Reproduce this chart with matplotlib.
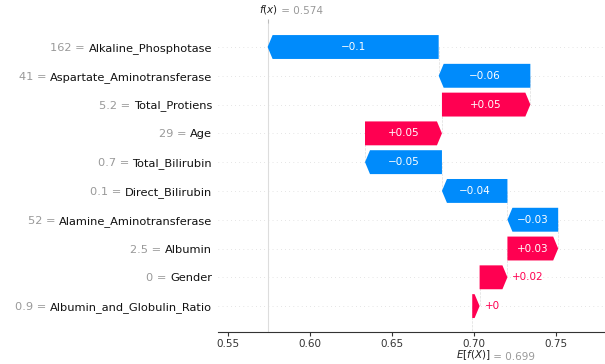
import matplotlib
matplotlib.use("Agg")
import matplotlib.pyplot as plt
import matplotlib.transforms as mtransforms
import numpy as np

features = ["Alkaline_Phosphotase", "Aspartate_Aminotransferase", "Total_Protiens",
            "Age", "Total_Bilirubin", "Direct_Bilirubin", "Alamine_Aminotransferase",
            "Albumin", "Gender", "Albumin_and_Globulin_Ratio"]
feature_values = ["162", "41", "5.2", "29", "0.7", "0.1", "52", "2.5", "0", "0.9"]
shap_values = [-0.1045, -0.056, 0.054, 0.047, -0.047, -0.040, -0.031, 0.031, 0.017, 0.0045]
base_value = 0.699
x_ticks = [0.55, 0.60, 0.65, 0.70, 0.75]

RED = "#ff0051"
BLUE = "#008bfb"
GRAY = "#999999"


def fmt(v, f="%+0.02f"):
    s = f % v
    if "." in s:
        s = s.rstrip("0").rstrip(".")
    return s.replace("-", "\u2212")


n = len(features)
rows = np.arange(n)

# cumulative positions: bottom row starts at base value
lefts = [0.0] * n
pos = base_value
for i in reversed(range(n)):
    lefts[i] = pos
    pos += shap_values[i]
fx = pos

W, H = 605, 364
fig = plt.figure(figsize=(W / 100, H / 100), dpi=100)
ax_l, ax_r, ax_t, ax_b = 218, 605, 23, 332
ax = fig.add_axes([ax_l / W, 1 - ax_b / H, (ax_r - ax_l) / W, (ax_b - ax_t) / H])

xmin, xmax = 0.5437, 0.7801
ax.set_xlim(xmin, xmax)
ax.set_ylim(9.9, -0.834)
px_per_unit = (ax_r - ax_l) / (xmax - xmin)
hl = 5.0 / px_per_unit
bar_w = 0.83

for i in range(n):
    ax.axhline(rows[i], color="#cccccc", lw=0.5, dashes=(1, 5), zorder=-1)

# connector lines
for i in range(n):
    y1 = rows[i] + 1 if i < n - 1 else 9.9
    ax.plot([lefts[i], lefts[i]], [rows[i], y1],
            color="#dddddd", lw=0.5, ls="--", zorder=-1)

ax.axvline(fx, color="#dddddd", lw=0.8, zorder=-1)

fig.canvas.draw()
renderer = fig.canvas.get_renderer()

for i in range(n):
    v = shap_values[i]
    col = RED if v > 0 else BLUE
    ax.arrow(lefts[i], rows[i], v, 0, width=bar_w, head_width=bar_w,
             head_length=min(abs(v), hl), length_includes_head=True,
             color=col, linewidth=0, zorder=2)
    label = fmt(v)
    t = ax.text(lefts[i] + v / 2, rows[i], label, ha="center", va="center",
                color="white", fontsize=7.5, zorder=3)
    tw = t.get_window_extent(renderer=renderer).width
    bar_px = abs(v) * px_per_unit
    if tw + 6 > bar_px - 5:
        t.remove()
        off = 5.0 / px_per_unit
        if v > 0:
            ax.text(lefts[i] + v + off, rows[i], label, ha="left", va="center",
                    color=RED, fontsize=7.5)
        else:
            ax.text(lefts[i] + v - off, rows[i], label, ha="right", va="center",
                    color=BLUE, fontsize=7.5)

# y labels: black feature name, gray "value =" to its left
ax.set_yticks([])
blend = mtransforms.blended_transform_factory(ax.transAxes, ax.transData)
name_texts = []
for i in range(n):
    tr = blend + mtransforms.ScaledTranslation(-6 / 100, 0, fig.dpi_scale_trans)
    tt = ax.text(0, rows[i], features[i], transform=tr, ha="right",
                 va="center_baseline", fontsize=8.2, color="#111111")
    name_texts.append(tt)
fig.canvas.draw()
for i in range(n):
    w = name_texts[i].get_window_extent(renderer=renderer).width
    tr = blend + mtransforms.ScaledTranslation(-(6 + w) / 100, 0, fig.dpi_scale_trans)
    ax.text(0, rows[i], feature_values[i] + " = ", transform=tr, ha="right",
            va="center_baseline", fontsize=8.2, color=GRAY)

ax.set_xticks(x_ticks)
ax.set_xticklabels([f"{x:.2f}" for x in x_ticks], fontsize=7.5, color="#333333")
ax.tick_params(axis="x", length=3, color="#333333", pad=2)
for s in ["top", "left", "right"]:
    ax.spines[s].set_visible(False)
ax.spines["bottom"].set_color("#333333")
ax.spines["bottom"].set_linewidth(0.8)

# f(x) tick at top
ax3 = ax.twiny()
ax3.set_xlim(xmin, xmax)
ax3.set_ylim(ax.get_ylim())
ax3.set_xticks([fx])
ax3.set_xticklabels([""])
ax3.tick_params(axis="x", length=3, color="#bbbbbb")
for s in ax3.spines.values():
    s.set_visible(False)

t1 = ax.annotate("$f(x)$", xy=(fx, 1), xycoords=("data", "axes fraction"),
                 xytext=(-6, 5), textcoords="offset points", ha="left", va="bottom",
                 fontsize=7.5, color="#222222")
ax.annotate(" = " + fmt(fx, "%0.03f"), xy=(1, 0), xycoords=t1, ha="left", va="bottom",
            fontsize=7.5, color=GRAY)

t2 = ax.annotate("$E[f(X)]$", xy=(base_value, 0), xycoords=("data", "axes fraction"),
                 xytext=(-12, -12), textcoords="offset points", ha="left", va="top",
                 fontsize=7.5, color="#222222")
ax.annotate(" = " + fmt(base_value, "%0.03f"), xy=(1, 0), xycoords=t2, ha="left",
            va="bottom", fontsize=7.5, color=GRAY)

fig.savefig("out.png", dpi=100)
